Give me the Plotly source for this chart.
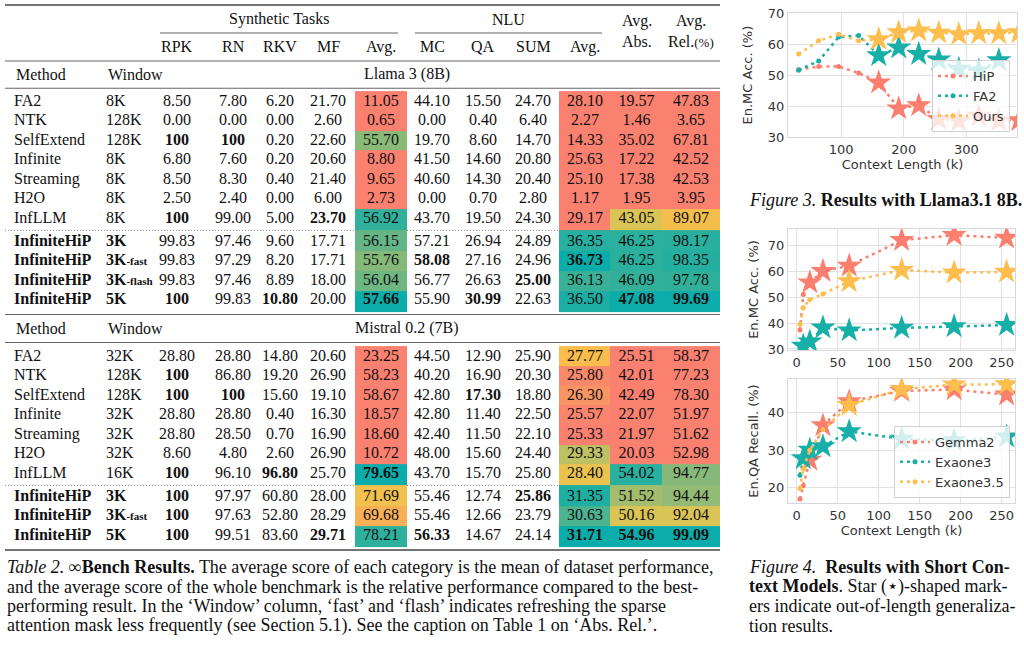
import plotly.graph_objects as go

W, H = 1024, 661

# ---------------- Table 2 data ----------------
columns = ["RPK", "RN", "RKV", "MF", "Avg.", "MC", "QA", "SUM", "Avg.", "Abs.", "Rel.(%)"]

llama_methods = ["FA2", "NTK", "SelfExtend", "Infinite", "Streaming", "H2O", "InfLLM",
                 "InfiniteHiP", "InfiniteHiP", "InfiniteHiP", "InfiniteHiP"]
llama_windows = ["8K", "128K", "128K", "8K", "8K", "8K", "8K", "3K", "3K-fast", "3K-flash", "5K"]
llama_rpk = [8.50, 0.00, 100, 6.80, 8.50, 2.50, 100, 99.83, 99.83, 99.83, 100]
llama_rn = [7.80, 0.00, 100, 7.60, 8.30, 2.40, 99.00, 97.46, 97.29, 97.46, 99.83]
llama_rkv = [6.20, 0.00, 0.20, 0.20, 0.40, 0.00, 5.00, 9.60, 8.20, 8.89, 10.80]
llama_mf = [21.70, 2.60, 22.60, 20.60, 21.40, 6.00, 23.70, 17.71, 17.71, 18.00, 20.00]
llama_syn_avg = [11.05, 0.65, 55.70, 8.80, 9.65, 2.73, 56.92, 56.15, 55.76, 56.04, 57.66]
llama_mc = [44.10, 0.00, 19.70, 41.50, 40.60, 0.00, 43.70, 57.21, 58.08, 56.77, 55.90]
llama_qa = [15.50, 0.40, 8.60, 14.60, 14.30, 0.70, 19.50, 26.94, 27.16, 26.63, 30.99]
llama_sum = [24.70, 6.40, 14.70, 20.80, 20.40, 2.80, 24.30, 24.89, 24.96, 25.00, 22.63]
llama_nlu_avg = [28.10, 2.27, 14.33, 25.63, 25.10, 1.17, 29.17, 36.35, 36.73, 36.13, 36.50]
llama_abs = [19.57, 1.46, 35.02, 17.22, 17.38, 1.95, 43.05, 46.25, 46.25, 46.09, 47.08]
llama_rel = [47.83, 3.65, 67.81, 42.52, 42.53, 3.95, 89.07, 98.17, 98.35, 97.78, 99.69]
# rows printed in bold, per column
llama_bold = [[2, 6, 10], [2], [10], [6], [10], [8], [10], [9], [8], [10], [10]]

mistral_methods = ["FA2", "NTK", "SelfExtend", "Infinite", "Streaming", "H2O", "InfLLM",
                   "InfiniteHiP", "InfiniteHiP", "InfiniteHiP"]
mistral_windows = ["32K", "128K", "128K", "32K", "32K", "32K", "16K", "3K", "3K-fast", "5K"]
mistral_rpk = [28.80, 100, 100, 28.80, 28.80, 8.60, 100, 100, 100, 100]
mistral_rn = [28.80, 86.80, 100, 28.80, 28.50, 4.80, 96.10, 97.97, 97.63, 99.51]
mistral_rkv = [14.80, 19.20, 15.60, 0.40, 0.70, 2.60, 96.80, 60.80, 52.80, 83.60]
mistral_mf = [20.60, 26.90, 19.10, 16.30, 16.90, 26.90, 25.70, 28.00, 28.29, 29.71]
mistral_syn_avg = [23.25, 58.23, 58.67, 18.57, 18.60, 10.72, 79.65, 71.69, 69.68, 78.21]
mistral_mc = [44.50, 40.20, 42.80, 42.80, 42.40, 48.00, 43.70, 55.46, 55.46, 56.33]
mistral_qa = [12.90, 16.90, 17.30, 11.40, 11.50, 15.60, 15.70, 12.74, 12.66, 14.67]
mistral_sum = [25.90, 20.30, 18.80, 22.50, 22.10, 24.40, 25.80, 25.86, 23.79, 24.14]
mistral_nlu_avg = [27.77, 25.80, 26.30, 25.57, 25.33, 29.33, 28.40, 31.35, 30.63, 31.71]
mistral_abs = [25.51, 42.01, 42.49, 22.07, 21.97, 20.03, 54.02, 51.52, 50.16, 54.96]
mistral_rel = [58.37, 77.23, 78.30, 51.97, 51.62, 52.98, 94.77, 94.44, 92.04, 99.09]
mistral_bold = [[1, 2, 6, 7, 8, 9], [2], [6], [9], [6], [9], [2], [7], [9], [9], [9]]

llama_values = [llama_rpk, llama_rn, llama_rkv, llama_mf, llama_syn_avg, llama_mc,
                llama_qa, llama_sum, llama_nlu_avg, llama_abs, llama_rel]
mistral_values = [mistral_rpk, mistral_rn, mistral_rkv, mistral_mf, mistral_syn_avg, mistral_mc,
                  mistral_qa, mistral_sum, mistral_nlu_avg, mistral_abs, mistral_rel]

# colour limits of the shaded columns (zmin, zmax)
llama_ranges = {4: (50.7, 57.66), 8: (32.0, 36.73), 9: (38.1, 47.08), 10: (81.4, 99.69)}
mistral_ranges = {4: (65.4, 79.65), 8: (25.35, 31.71), 9: (44.3, 54.96), 10: (83.4, 99.09)}

# ---------------- Figure 3 / 4 data ----------------
ctx_llama31 = [32, 64, 96, 128, 160, 192, 224, 256, 288, 320, 352, 384]
hip_mc = [51.8, 52.8, 52.8, 50.7, 47.6, 39.2, 40.2, 35.8, 35.2, 36.8, 35.3, 35.4]
fa2_mc = [51.6, 54.6, 62.3, 62.8, 56.4, 58.9, 56.8, 55.0, 52.0, 51.5, 54.8]
ours_mc = [56.8, 61.1, 63.2, 61.1, 61.6, 63.8, 64.4, 63.7, 63.2, 63.5, 63.5, 63.8]
llama31_train_len = 128

ctx_short = [4, 8, 16, 32, 64, 128, 192, 256]
gemma2_mc = [37.3, 51.0, 55.6, 60.0, 62.0, 71.9, 73.8, 72.8]
exaone3_mc = [30.5, 31.2, 32.8, 38.2, 37.1, 38.1, 38.7, 39.2]
exaone35_mc = [39.5, 46.0, 49.0, 51.2, 56.0, 60.4, 59.4, 59.7]
gemma2_qa = [17.0, 20.5, 27.4, 36.6, 43.0, 45.8, 46.2, 44.8]
exaone3_qa = [23.3, 27.8, 30.1, 31.0, 35.0, 33.0, 32.6, 33.6]
exaone35_qa = [19.8, 25.0, 30.0, 35.5, 42.0, 46.3, 47.5, 47.6]
train_len = {"Gemma2": 8, "Exaone3": 4, "Exaone3.5": 32}

RED, TEAL, GOLD = "#FA7F6F", "#17AFA8", "#FDBE4E"
SERIF = "Liberation Serif"
SANS = "DejaVu Sans"
INK = "#111111"

colorscale = [[0.00, "#FA8070"], [0.12, "#F98F68"], [0.25, "#F9A85A"], [0.38, "#FABC4C"],
              [0.50, "#E8C350"], [0.58, "#D2C45A"], [0.66, "#ADBE6C"], [0.74, "#7DB87C"],
              [0.82, "#52B38E"], [0.90, "#2EB09C"], [1.00, "#0AADAA"]]

fig = go.Figure()

# ---------------- table ----------------
PITCH = 19.55
col_x = [177, 233, 280, 328, 381, 432, 483, 533, 585, 636.5, 691]
shade_x = {4: (355, 407), 8: (559, 610), 9: (610, 662), 10: (662, 720)}


def fmt(v, bold):
    s = "100" if v == 100 else f"{v:.2f}"
    return f"<b>{s}</b>" if bold else s


def window_label(w, bold):
    if "-" in w:
        base, suffix = w.split("-", 1)
        w = f"{base}<span style='font-size:11px'>-{suffix}</span>"
    return f"<b>{w}</b>" if bold else w


def add_section(methods, windows, values, bold, ranges, first_row):
    n_base = methods.index("InfiniteHiP")
    ys = [first_row + PITCH * i for i in range(n_base)]
    start = ys[-1] + PITCH + 3.2
    ys += [start + PITCH * i for i in range(len(methods) - n_base)]

    edges = [ys[0] - 10.6] + [(a + b) / 2 for a, b in zip(ys[:-1], ys[1:])] + [ys[-1] + 11.3]
    for c, (zmin, zmax) in ranges.items():
        fig.add_trace(go.Heatmap(
            x=list(shade_x[c]), y=edges, z=[[v] for v in values[c]],
            zmin=zmin, zmax=zmax, colorscale=colorscale, showscale=False,
            hoverinfo="skip", xaxis="x4", yaxis="y4"))

    ours = [m == "InfiniteHiP" for m in methods]
    fig.add_trace(go.Scatter(
        x=[14] * len(methods), y=ys, mode="text", textposition="middle right",
        text=[f"<b>{m}</b>" if o else m for m, o in zip(methods, ours)],
        textfont=dict(family=SERIF, size=16, color=INK),
        hoverinfo="skip", showlegend=False, xaxis="x4", yaxis="y4"))
    fig.add_trace(go.Scatter(
        x=[106] * len(windows), y=ys, mode="text", textposition="middle right",
        text=[window_label(w, o) for w, o in zip(windows, ours)],
        textfont=dict(family=SERIF, size=16, color=INK),
        hoverinfo="skip", showlegend=False, xaxis="x4", yaxis="y4"))
    for c, col in enumerate(values):
        fig.add_trace(go.Scatter(
            x=[col_x[c]] * len(col), y=ys, mode="text", textposition="middle center",
            text=[fmt(v, i in bold[c]) for i, v in enumerate(col)],
            textfont=dict(family=SERIF, size=16, color=INK),
            hoverinfo="skip", showlegend=False, xaxis="x4", yaxis="y4"))
    sep = (ys[n_base - 1] + ys[n_base]) / 2
    return sep


sep1 = add_section(llama_methods, llama_windows, llama_values, llama_bold, llama_ranges, 101.7)
sep2 = add_section(mistral_methods, mistral_windows, mistral_values, mistral_bold, mistral_ranges, 356.7)

shapes = []
for y, w, c in [(5, 1.3, "#444"), (61, 1.1, "#666"), (88.3, 1.1, "#666"), (314.5, 1.1, "#666"),
                (342.5, 1.1, "#666"), (550, 1.3, "#444")]:
    shapes.append(dict(type="line", xref="x4", yref="y4", x0=5, x1=720, y0=y, y1=y,
                       line=dict(color=c, width=w)))
for x0, x1 in [(160, 398), (415, 602)]:
    shapes.append(dict(type="line", xref="x4", yref="y4", x0=x0, x1=x1, y0=33, y1=33,
                       line=dict(color="#999", width=1.4)))
for y in [sep1, sep2]:
    shapes.append(dict(type="line", xref="x4", yref="y4", x0=5, x1=720, y0=y, y1=y,
                       layer="below", line=dict(color="#888", width=1, dash="1px,2px")))

annotations = []


def table_text(x, y, text, anchor="center", size=16):
    annotations.append(dict(xref="x4", yref="y4", x=x, y=y, text=text, showarrow=False,
                            xanchor=anchor, yanchor="middle",
                            font=dict(family=SERIF, size=size, color=INK)))


table_text(279, 19.3, "Synthetic Tasks")
table_text(508, 19.3, "NLU")
table_text(636.5, 21, "Avg.")
table_text(691, 21, "Avg.")
table_text(636.5, 41.5, "Abs.")
table_text(691, 41.5, "Rel.<span style='font-size:13px'>(%)</span>")
for c, name in enumerate(columns[:9]):
    table_text(col_x[c], 46.7, name)
for y, model in [(74, "Llama 3 (8B)"), (328.3, "Mistral 0.2 (7B)")]:
    table_text(14, y, "Method", "left")
    table_text(106, y, "Window", "left")
    table_text(407, y, model)

CAPTION = 18
caption_lines = [
    "<i>Table 2.</i> <b>∞Bench Results.</b> The average score of each category is the mean of dataset performance,",
    "and the average score of the whole benchmark is the relative performance compared to the best-",
    "performing result. In the ‘Window’ column, ‘fast’ and ‘flash’ indicates refreshing the sparse",
    "attention mask less frequently (see Section 5.1). See the caption on Table 1 on ‘Abs. Rel.’.",
]
fig4_caption = [
    "<i>Figure 4.</i>  <b>Results with Short Con-</b>",
    "<b>text Models</b>. Star (⋆)-shaped mark-",
    "ers indicate out-of-length generaliza-",
    "tion results.",
]
for i, line in enumerate(caption_lines):
    table_text(5, 567 + 19.5 * i, line, "left", CAPTION)
for i, line in enumerate(fig4_caption):
    annotations.append(dict(xref="paper", yref="paper", x=747 / W, y=1 - (567 + 19.5 * i) / H,
                            text=line, showarrow=False, xanchor="left", yanchor="middle",
                            font=dict(family=SERIF, size=CAPTION, color=INK)))
annotations.append(dict(xref="paper", yref="paper", x=747 / W, y=1 - 200 / H,
                        text="<i>Figure 3.</i> <b>Results with Llama3.1 8B.</b>",
                        showarrow=False, xanchor="left", yanchor="middle",
                        font=dict(family=SERIF, size=CAPTION, color=INK)))

# ---------------- line charts ----------------


def add_series(x, y, name, color, native, ax, legend=None):
    x = x[:len(y)]
    fig.add_trace(go.Scatter(
        x=x, y=y, mode="lines+markers", name=name,
        line=dict(color=color, width=2.5, dash="3px,4px"),
        marker=dict(size=5, color=color),
        showlegend=legend is not None, legend=legend or "legend",
        xaxis="x" + ax, yaxis="y" + ax, hoverinfo="skip"))
    sx = [a for a in x if a > native]
    sy = [b for a, b in zip(x, y) if a > native]
    fig.add_trace(go.Scatter(
        x=sx, y=sy, mode="markers", showlegend=False,
        marker=dict(symbol="star", size=19, color=color, line=dict(width=0)),
        xaxis="x" + ax, yaxis="y" + ax, hoverinfo="skip"))


add_series(ctx_llama31, hip_mc, "HiP", RED, llama31_train_len, "", "legend")
add_series(ctx_llama31, fa2_mc, "FA2", TEAL, llama31_train_len, "", "legend")
add_series(ctx_llama31, ours_mc, "Ours", GOLD, llama31_train_len, "", "legend")

add_series(ctx_short, gemma2_mc, "Gemma2", RED, train_len["Gemma2"], "2")
add_series(ctx_short, exaone3_mc, "Exaone3", TEAL, train_len["Exaone3"], "2")
add_series(ctx_short, exaone35_mc, "Exaone3.5", GOLD, train_len["Exaone3.5"], "2")

add_series(ctx_short, gemma2_qa, "Gemma2", RED, train_len["Gemma2"], "3", "legend2")
add_series(ctx_short, exaone3_qa, "Exaone3", TEAL, train_len["Exaone3"], "3", "legend2")
add_series(ctx_short, exaone35_qa, "Exaone3.5", GOLD, train_len["Exaone3.5"], "3", "legend2")

tick_font = dict(family=SANS, size=13, color="#333333")
grid = dict(showgrid=True, gridcolor="#E2E2E2", gridwidth=1, showline=True, mirror=True,
            linecolor="#D8D8D8", linewidth=1.2, zeroline=False, ticks="", automargin=False,
            tickfont=tick_font, fixedrange=True)


def ydom(top, bottom):
    return [1 - bottom / H, 1 - top / H]


legend_style = dict(xanchor="right", yanchor="bottom", bgcolor="rgba(255,255,255,0.8)",
                    bordercolor="#D0D0D0", borderwidth=1, tracegroupgap=0, itemwidth=30,
                    font=dict(family=SANS, size=13, color="#333333"))

fig.update_layout(
    width=W, height=H, template="none",
    margin=dict(l=0, r=0, t=0, b=0),
    paper_bgcolor="white", plot_bgcolor="white",
    shapes=shapes, annotations=annotations, hovermode=False,
    xaxis=dict(domain=[788 / W, 1017 / W], range=[15, 381], tickvals=[100, 200, 300],
               anchor="y", title=dict(text="Context Length (k)", font=tick_font, standoff=4), **grid),
    yaxis=dict(domain=ydom(13.3, 137), range=[30, 70], dtick=10, anchor="x",
               title=dict(text="En.MC Acc. (%)", font=tick_font, standoff=12), **grid),
    xaxis2=dict(domain=[788 / W, 1015 / W], range=[-10.6, 266.2], dtick=50, tick0=0,
                anchor="y2", **grid),
    yaxis2=dict(domain=ydom(229, 350), range=[29.6, 76.2], dtick=10, tick0=0, anchor="x2",
                title=dict(text="En.MC Acc. (%)", font=tick_font, standoff=6), **grid),
    xaxis3=dict(domain=[788 / W, 1015 / W], range=[-10.6, 266.2], dtick=50, tick0=0,
                anchor="y3", title=dict(text="Context Length (k)", font=tick_font, standoff=4), **grid),
    yaxis3=dict(domain=ydom(379, 503), range=[15.9, 49], dtick=10, tick0=0, anchor="x3",
                title=dict(text="En.QA Recall. (%)", font=tick_font, standoff=6), **grid),
    xaxis4=dict(domain=[0, 727 / W], range=[0, 727], visible=False, fixedrange=True),
    yaxis4=dict(domain=[0, 1], range=[H, 0], visible=False, fixedrange=True, anchor="x4"),
    legend=dict(x=1010 / W, y=1 - 132 / H, **legend_style),
    legend2=dict(x=1010 / W, y=1 - 498 / H, **legend_style),
)

# the default page keeps an 8px body margin, which would push the figure off the window
fig.write_html("out.html", config={"displayModeBar": False},
               post_script="document.body.style.margin='0';")
